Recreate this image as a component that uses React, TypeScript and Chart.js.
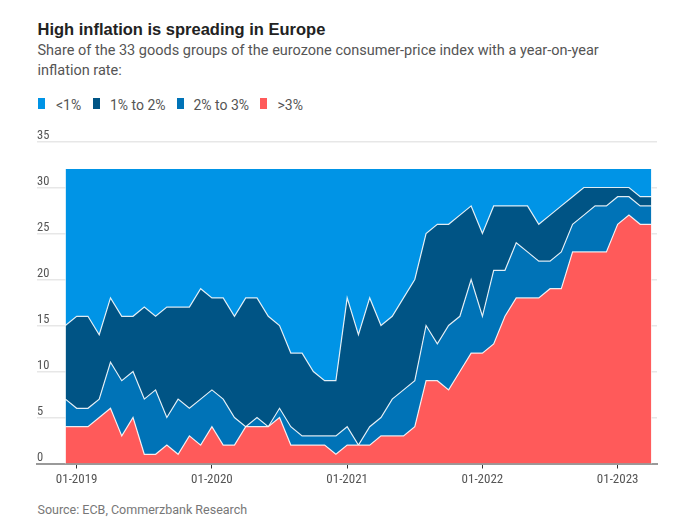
import React, { useEffect, useRef } from "react";
import { Chart, registerables } from "chart.js";

Chart.register(...registerables);

const monthLabels = [
  "12-2018",
  "01-2019", "02-2019", "03-2019", "04-2019", "05-2019", "06-2019", "07-2019", "08-2019", "09-2019", "10-2019", "11-2019", "12-2019",
  "01-2020", "02-2020", "03-2020", "04-2020", "05-2020", "06-2020", "07-2020", "08-2020", "09-2020", "10-2020", "11-2020", "12-2020",
  "01-2021", "02-2021", "03-2021", "04-2021", "05-2021", "06-2021", "07-2021", "08-2021", "09-2021", "10-2021", "11-2021", "12-2021",
  "01-2022", "02-2022", "03-2022", "04-2022", "05-2022", "06-2022", "07-2022", "08-2022", "09-2022", "10-2022", "11-2022", "12-2022",
  "01-2023", "02-2023", "03-2023", "04-2023",
];

const tickLabels = ["01-2019", "01-2020", "01-2021", "01-2022", "01-2023"];
const yTickValues = [0, 5, 10, 15, 20, 25, 30, 35];

const above3 = [
  4, 4, 4, 5, 6, 3, 5, 1, 1, 2, 1, 3, 2, 4, 2, 2, 4,
  4, 4, 5, 2, 2, 2, 2, 1, 2, 2, 2, 3, 3, 3, 4, 9, 9, 8, 10,
  12, 12, 13, 16, 18, 18, 18, 19, 19, 23, 23, 23, 23, 26, 27, 26, 26,
];
const from2to3 = [
  3, 2, 2, 2, 5, 6, 5, 6, 7, 3,
  6, 3, 5, 4, 5, 3, 0, 1, 0, 1,
  2, 1, 1, 1, 2, 2, 0, 2, 2, 4,
  5, 5, 6, 4, 7, 6, 8, 4, 8, 5,
  6, 5, 4, 3, 4, 3, 4, 5, 5, 3,
  2, 2, 2,
];
const from1to2 = [
  8, 10, 10, 7, 7, 7, 6, 10, 8, 12,
  10, 11, 12, 10, 11, 11, 14, 13, 12, 9,
  8, 9, 7, 6, 6, 14, 12, 14, 10, 9,
  10, 11, 10, 13, 11, 11, 8, 9, 7, 7,
  4, 5, 4, 5, 5, 3, 3, 2, 2, 1,
  1, 1, 1,
];
const below1 = [
  17, 16, 16, 18, 14, 16, 16, 15, 16, 15,
  15, 15, 13, 14, 14, 16, 14, 14, 16, 17,
  20, 20, 22, 23, 23, 14, 18, 14, 17, 16,
  14, 12, 7, 6, 6, 5, 4, 7, 4, 4,
  4, 4, 6, 5, 4, 3, 2, 2, 2, 2,
  2, 3, 3,
];

const seriesNames = ["<1%", "1% to 2%", "2% to 3%", ">3%"];
const seriesColors = ["#0094e6", "#005485", "#0073b7", "#ff5a5a"];

// legend layout (page px)
const legendSwatchX = [38.3, 92.7, 176.7, 260];
const legendTextX = [56, 110, 193.5, 277.5];

const TEXT_FONT = 'Roboto, "Liberation Sans", sans-serif';
const TITLE_FONT = '"Liberation Sans", Roboto, sans-serif';
const TICK_FONT = '"Roboto Condensed", "DejaVu Sans Condensed", sans-serif';

const edgeLines = {
  id: "edgeLines",
  afterDatasetsDraw(chart: any) {
    const meta = chart.getDatasetMeta(chart.data.datasets.length - 1);
    const pts = meta.data;
    if (!pts || !pts.length) return;
    const ctx = chart.ctx;
    const yBottom = chart.scales.y.getPixelForValue(0);
    ctx.save();
    ctx.strokeStyle = "rgba(255,255,255,0.6)";
    ctx.lineWidth = 1;
    [pts[0], pts[pts.length - 1]].forEach((p: any) => {
      ctx.beginPath();
      ctx.moveTo(p.x, p.y);
      ctx.lineTo(p.x, yBottom);
      ctx.stroke();
    });
    ctx.restore();
  },
};

export default function App() {
  const canvasRef = useRef<HTMLCanvasElement | null>(null);

  useEffect(() => {
    const canvas = canvasRef.current;
    if (!canvas) return;
    const toPts = (arr: number[]) => arr.map((v, i) => ({ x: i, y: v }));
    const tickIdx = tickLabels.map((l) => monthLabels.indexOf(l));
    const border = "rgba(255,255,255,0.85)";
    const chart = new Chart(canvas, {
      type: "line",
      data: {
        datasets: [
          { label: seriesNames[3], data: toPts(above3), backgroundColor: seriesColors[3], borderColor: border, borderWidth: 1.2, fill: "origin" },
          { label: seriesNames[2], data: toPts(from2to3), backgroundColor: seriesColors[2], borderColor: border, borderWidth: 1.2, fill: "-1" },
          { label: seriesNames[1], data: toPts(from1to2), backgroundColor: seriesColors[1], borderColor: border, borderWidth: 1.2, fill: "-1" },
          { label: seriesNames[0], data: toPts(below1), backgroundColor: seriesColors[0], borderColor: seriesColors[0], borderWidth: 0, fill: "-1" },
        ],
      },
      plugins: [edgeLines],
      options: {
        animation: false,
        responsive: false,
        devicePixelRatio: 1,
        layout: { padding: { left: 37, right: 34, top: 21.5, bottom: 0 } },
        elements: { point: { radius: 0, hoverRadius: 0 }, line: { tension: 0 } },
        plugins: { legend: { display: false }, tooltip: { enabled: false } },
        scales: {
          x: {
            type: "linear",
            min: -2.52,
            max: 52.49,
            z: 1,
            afterBuildTicks: (axis: any) => {
              axis.ticks = tickIdx.map((v) => ({ value: v }));
            },
            afterFit: (axis: any) => {
              axis.height = 36.5;
            },
            ticks: {
              autoSkip: false,
              maxRotation: 0,
              padding: 3,
              color: "#555",
              font: { family: TICK_FONT, size: 13 },
              callback: (v: any) => monthLabels[Math.round(Number(v))] ?? "",
            },
            grid: { drawOnChartArea: false, drawTicks: true, tickLength: 5, color: "#333", tickWidth: 1 },
            border: { display: true, color: "#9a9a9a", width: 2 },
          },
          y: {
            stacked: true,
            min: 0,
            max: 35,
            z: 1,
            afterBuildTicks: (axis: any) => {
              axis.ticks = yTickValues.map((v) => ({ value: v }));
            },
            afterFit: (axis: any) => {
              axis.width = 0;
            },
            ticks: {
              mirror: true,
              padding: 0,
              labelOffset: -6,
              color: "#555",
              font: { family: TICK_FONT, size: 12.5 },
            },
            grid: { color: "rgba(215,215,215,0.6)", lineWidth: 1.5, drawTicks: false },
            border: { display: false },
          },
        },
      },
    });
    return () => chart.destroy();
  }, []);

  return (
    <div style={{ position: "absolute", left: 0, top: 0, width: 691, height: 532, background: "#fff", fontFamily: TEXT_FONT, overflow: "hidden" }}>
      <div style={{ position: "absolute", left: 37.5, top: 18.6, fontFamily: TITLE_FONT, fontSize: 16.5, lineHeight: "20px", fontWeight: 700, color: "#222", whiteSpace: "nowrap" }}>
        High inflation is spreading in Europe
      </div>
      <div style={{ position: "absolute", left: 37.5, top: 41, width: 640, fontSize: 14.5, lineHeight: "20px", color: "#555" }}>
        Share of the 33 goods groups of the eurozone consumer-price index with a year-on-year
        <br />
        inflation rate:
      </div>
      {seriesNames.map((n, i) => (
        <React.Fragment key={n}>
          <span style={{ position: "absolute", left: legendSwatchX[i], top: 98.3, width: 7, height: 10.7, background: seriesColors[i] }} />
          <span style={{ position: "absolute", left: legendTextX[i], top: 95.5, fontSize: 14, lineHeight: "18px", color: "#555", whiteSpace: "nowrap" }}>{n}</span>
        </React.Fragment>
      ))}
      <canvas ref={canvasRef} width={691} height={380} style={{ position: "absolute", left: 0, top: 120, width: 691, height: 380 }} />
      <div style={{ position: "absolute", left: 37.5, top: 502, fontSize: 12.5, lineHeight: "16px", color: "#777", whiteSpace: "nowrap" }}>
        Source: ECB, Commerzbank Research
      </div>
    </div>
  );
}
